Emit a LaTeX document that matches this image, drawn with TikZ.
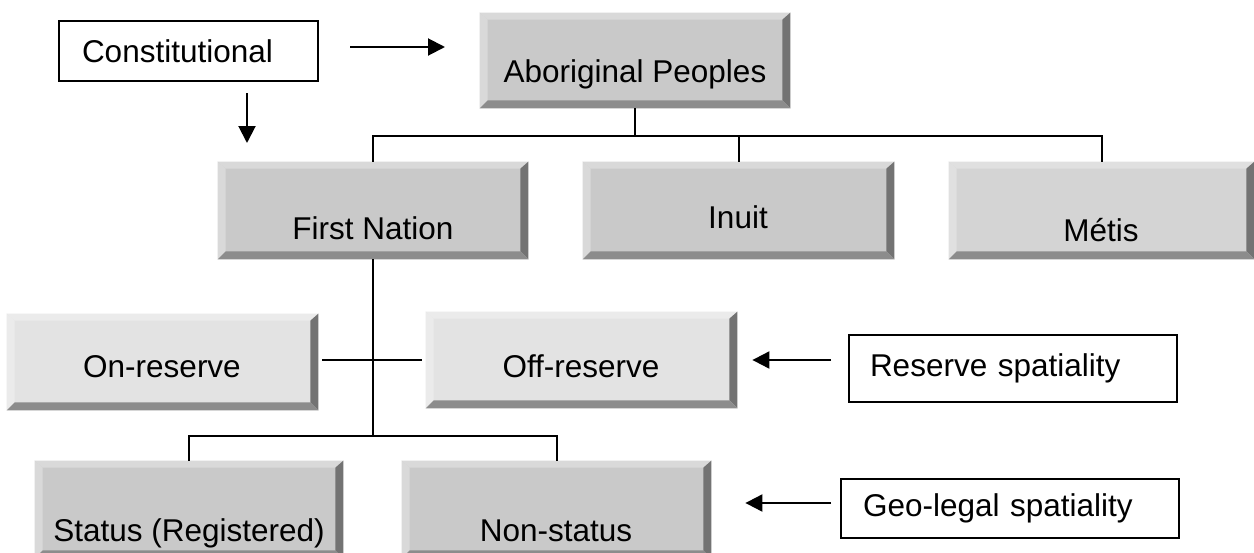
\documentclass[tikz,border=0pt]{standalone}
\usepackage{fontspec}
\setmainfont{Liberation Sans}
\usetikzlibrary{calc,arrows.meta}
\definecolor{faceA}{gray}{0.79}
\definecolor{lightA}{gray}{0.85}
\definecolor{faceM}{gray}{0.83}
\definecolor{lightM}{gray}{0.88}
\definecolor{faceO}{gray}{0.89}
\definecolor{lightO}{gray}{0.92}
\definecolor{bevR}{gray}{0.45}
\definecolor{bevB}{gray}{0.55}
\tikzset{
  lbl/.style={inner sep=0pt, font=\fontsize{15.75pt}{18pt}\selectfont},
  plainbox/.style={draw=black, line width=1pt, fill=white, inner sep=0pt, align=left, font=\fontsize{15.75pt}{18pt}\selectfont},
  conn/.style={line width=1pt, draw=black},
  arr/.style={line width=1pt, draw=black, -{Triangle[length=8.5pt,width=8.5pt]}}
}
\newcommand{\bbox}[7]{%
  \node[fill=#6, inner sep=0pt, minimum width=#4*0.5pt, minimum height=#5*0.5pt] (#1) at (#2,#3) {};
  \fill[#7] (#1.north west) -- (#1.north east) -- ($(#1.north east)+(-8,7)$) -- ($(#1.north west)+(8,7)$) -- cycle;
  \fill[#7] (#1.north west) -- ($(#1.north west)+(8,7)$) -- ($(#1.south west)+(8,-8)$) -- (#1.south west) -- cycle;
  \fill[bevR] (#1.north east) -- (#1.south east) -- ($(#1.south east)+(-8,-8)$) -- ($(#1.north east)+(-8,7)$) -- cycle;
  \fill[bevB] (#1.south west) -- (#1.south east) -- ($(#1.south east)+(-8,-8)$) -- ($(#1.south west)+(8,-8)$) -- cycle;
}
\begin{document}
\begin{tikzpicture}[x=0.5pt,y=-0.5pt]
\useasboundingbox (0,0) rectangle (1254,552);
\clip (0,0) rectangle (1254,552);
\fill[white] (0,0) rectangle (1254,552);

% beveled boxes
\bbox{abo}{635}{60.5}{310}{95}{faceA}{lightA}
\bbox{fn}{373}{210.5}{310}{97}{faceA}{lightA}
\bbox{inu}{738.5}{210.5}{311}{97}{faceA}{lightA}
\bbox{met}{1101.5}{210.5}{305}{97}{faceM}{lightM}
\bbox{on}{162.5}{362}{311}{96}{faceO}{lightO}
\bbox{off}{581.5}{360}{311}{96}{faceO}{lightO}
\bbox{stat}{189}{509.5}{308}{97}{faceA}{lightA}
\bbox{nstat}{556.5}{509.5}{309}{97}{faceA}{lightA}

% labels
\node[lbl, anchor=base] (abot) at (635,82) {Aboriginal Peoples};
\node[lbl, anchor=base] (fnt) at (373,239) {First Nation};
\node[lbl, anchor=base] (inut) at (738,228) {Inuit};
\node[lbl, anchor=base] (mett) at (1101,241) {Métis};
\node[lbl, anchor=base] (ont) at (162,377) {On-reserve};
\node[lbl, anchor=base] (offt) at (581,377) {Off-reserve};
\node[lbl, anchor=base] (statt) at (189,541) {Status (Registered)};
\node[lbl, anchor=base] (nstatt) at (556,541) {Non-status};

% plain boxes
\node[plainbox, minimum width=259*0.5pt, minimum height=60*0.5pt, text width=213*0.5pt] (con) at (188.5,51) {Constitutional};
\node[plainbox, minimum width=328*0.5pt, minimum height=67*0.5pt, text width=286*0.5pt] (rs) at (1013,368.5) {Reserve spatiality};
\node[plainbox, minimum width=338*0.5pt, minimum height=59*0.5pt, text width=294*0.5pt] (geo) at (1010,508.5) {Geo-legal spatiality};

% tree connectors
\coordinate (j1) at (635,136);
\coordinate (j2) at (373,436);
\draw[conn] (abo.south) -- (j1);
\draw[conn] (fn.north) |- (met.north |- j1) -- (met.north);
\draw[conn] (inu.north) -- (inu.north |- j1);
\draw[conn] (fn.south) -- (j2);
\draw[conn] (stat.north) |- (nstat.north |- j2) -- (nstat.north);
\draw[conn] ($(on.east)+(4,-2)$) -- ($(off.west)+(-4,0)$);

% arrows
\coordinate (a1s) at (350,47);
\coordinate (a1e) at (445,47);
\coordinate (a2s) at (247,93);
\coordinate (a2e) at (247,143);
\draw[arr] (a1s) -- (a1e);
\draw[arr] (a2s) -- (a2e);
\draw[arr] ($(rs.west)+(-17,-8.5)$) -- ($(off.east)+(15,0)$);
\draw[arr] ($(geo.west)+(-9,-5.5)$) -- ($(nstat.east)+(34,-6.5)$);
\end{tikzpicture}
\end{document}
